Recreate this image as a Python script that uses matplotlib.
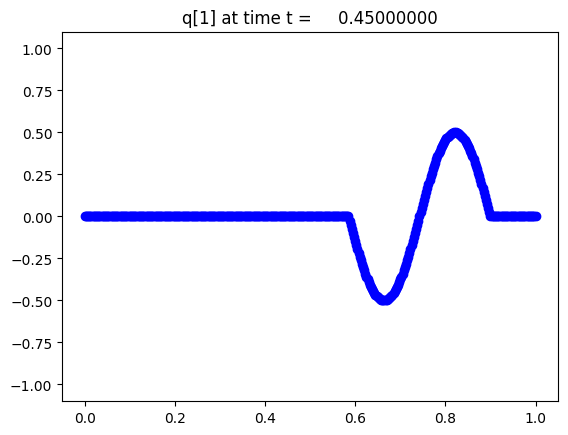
#!/usr/bin/env python

# import libraries
import numpy as np
import matplotlib
matplotlib.use("Agg")
import matplotlib.pyplot as plt

# frame time and cell spacing
t = 0.45
dx = 0.0025

# q[1]: flat zero, wave between x=0.585 and x=0.900
q_left = [0.0] * 234          # x = 0.0000 ... 0.5825
q_trough = [0.000,
            -0.025, -0.050, -0.075, -0.099, -0.123, -0.147, -0.171, -0.194,
            -0.217, -0.239, -0.261, -0.282, -0.302, -0.321, -0.340, -0.358,
            -0.375, -0.391, -0.406, -0.420, -0.433, -0.445, -0.456, -0.465,
            -0.474, -0.481, -0.487, -0.492, -0.496, -0.499, -0.500,
            -0.500, -0.499, -0.496, -0.492, -0.487, -0.481, -0.474, -0.465,
            -0.456, -0.445, -0.433, -0.420, -0.406, -0.391, -0.375, -0.358,
            -0.340, -0.321, -0.302, -0.282, -0.261, -0.239, -0.217, -0.194,
            -0.171, -0.147, -0.123, -0.099, -0.075, -0.050, -0.025,
            0.000]
q_crest = [0.025, 0.050, 0.075, 0.099, 0.123, 0.147, 0.171, 0.194,
           0.217, 0.239, 0.261, 0.282, 0.302, 0.321, 0.340, 0.358,
           0.375, 0.391, 0.406, 0.420, 0.433, 0.445, 0.456, 0.465,
           0.474, 0.481, 0.487, 0.492, 0.496, 0.499, 0.500,
           0.500, 0.499, 0.496, 0.492, 0.487, 0.481, 0.474, 0.465,
           0.456, 0.445, 0.433, 0.420, 0.406, 0.391, 0.375, 0.358,
           0.340, 0.321, 0.302, 0.282, 0.261, 0.239, 0.217, 0.194,
           0.171, 0.147, 0.123, 0.099, 0.075, 0.050, 0.025,
           0.000]
q_right = [0.0] * 40          # x = 0.9025 ... 1.0000

q = np.array(q_left + q_trough + q_crest + q_right)
x = np.arange(len(q)) * dx

fig = plt.figure(figsize=(6.4, 4.8), dpi=100)
ax = fig.add_subplot(111)
ax.plot(x, q, 'bo')
ax.set_ylim(-1.1, 1.1)
ax.set_title("q[1] at time t = %14.8f" % t)

fig.savefig("out.png", dpi=100, bbox_inches="tight")
